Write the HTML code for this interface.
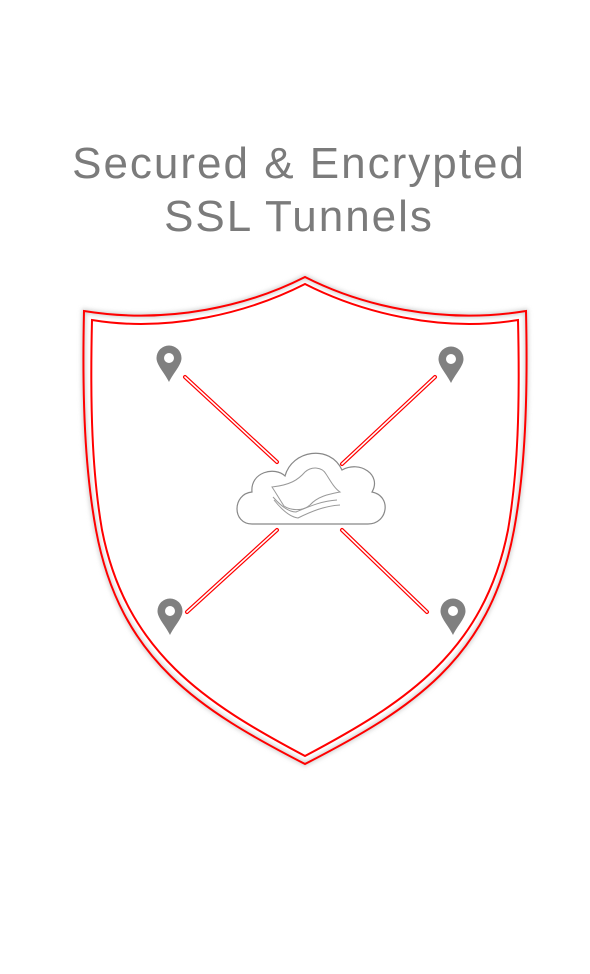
<!DOCTYPE html>
<html><head><style>
html,body{margin:0;padding:0;background:#fff;width:590px;height:974px;overflow:hidden}
.t{position:absolute;left:0;width:598px;text-align:center;font-family:"Liberation Sans",sans-serif;font-size:44px;color:#7b7b7b;letter-spacing:2px}
</style></head><body>
<div class="t" style="top:139px">Secured &amp; Encrypted</div>
<div class="t" style="top:192px">SSL Tunnels</div>
<svg width="590" height="974" style="position:absolute;left:0;top:0">
<defs><filter id="s" x="-10%" y="-10%" width="120%" height="120%"><feGaussianBlur stdDeviation="2"/></filter></defs>
<g fill="none">
<path d="M305,277 C250,305 170,325 84,311 C82,400 85,470 96,530 C120,660 200,710 305,764 C410,710 490,660 514,530 C525,470 528,400 526,311 C440,325 360,305 305,277 Z" stroke="#ccc" stroke-width="4" filter="url(#s)"/>
<path d="M305,277 C250,305 170,325 84,311 C82,400 85,470 96,530 C120,660 200,710 305,764 C410,710 490,660 514,530 C525,470 528,400 526,311 C440,325 360,305 305,277 Z" stroke="#f00" stroke-width="2"/>
<path d="M305,284 C250,312 170,333 92,320 C90,405 92,472 102,530 C126,652 205,703 305,756 C405,703 484,652 508,530 C518,472 520,405 518,320 C440,333 360,312 305,284 Z" stroke="#f00" stroke-width="2"/>
</g>
<g stroke-linecap="round">
<g stroke="#f00" stroke-width="4"><line x1="185" y1="377" x2="277" y2="462"/><line x1="435" y1="377" x2="342" y2="464"/><line x1="187" y1="612" x2="277" y2="530"/><line x1="427" y1="612" x2="342" y2="530"/></g>
<g stroke="#fff" stroke-width="1.6"><line x1="185" y1="377" x2="277" y2="462"/><line x1="435" y1="377" x2="342" y2="464"/><line x1="187" y1="612" x2="277" y2="530"/><line x1="427" y1="612" x2="342" y2="530"/></g>
</g>
<path d="M252,524 C232,524 232,494 252,492 C250,472 275,466 285,476 C292,450 330,444 342,470 C360,460 382,475 372,492 C392,496 388,524 368,524 Z" fill="#fff" stroke="#888" stroke-width="1.2"/>
<g fill="none" stroke="#999" stroke-width="1">
<path d="M272,487 C290,485 298,480 305,472 C312,466 322,467 326,474 C330,480 334,488 340,492 C330,494 318,496 310,505 C302,512 290,510 284,506 C280,500 276,493 272,487 Z"/>
<path d="M273,497 C280,505 288,512 296,512 C306,508 320,501 337,500"/>
<path d="M274,500 C282,510 290,517 298,518 C310,512 324,506 340,505"/>
</g>
<g fill="#808080">
<path id="p" d="M-12.5,0 A12.5,12.5 0 1 1 12.5,0 C12.5,7 5,14 0,24 C-5,14 -12.5,7 -12.5,0 Z M-5,0 A5,5 0 1 0 5,0 A5,5 0 1 0 -5,0 Z" fill-rule="evenodd" transform="translate(169,358)"/>
<use href="#p" transform="translate(282,1)"/>
<use href="#p" transform="translate(1,253)"/>
<use href="#p" transform="translate(284,253)"/>
</g>
</svg>
</body></html>
